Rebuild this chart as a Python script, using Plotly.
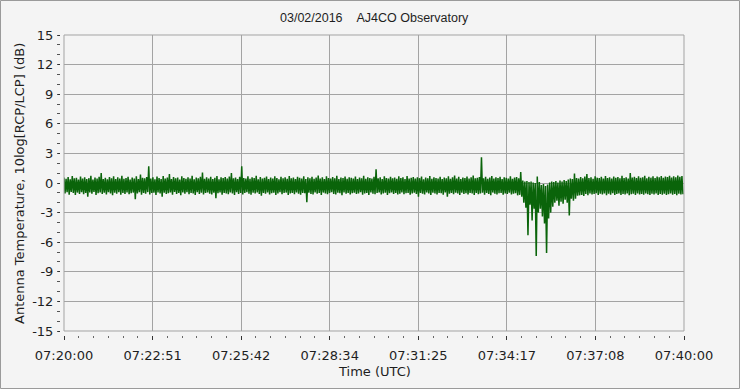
import plotly.graph_objects as go

# ---- data (dB), read per 4-second column: upper and lower envelope ----
SAMPLE_S = 4.0
hi = [
    0.55, 0.42, 0.61, 0.38, 0.70, 0.47, 0.52, 0.35, 0.66, 0.44,
    0.58, 0.40, 0.49, 0.72, 0.36, 0.55, 0.45, 0.63, 1.00, 0.41,
    0.53, 0.37, 0.60, 0.48, 0.68, 0.39, 0.57, 0.46, 0.74, 0.43,
    0.50, 0.62, 0.34, 0.56, 0.45, 0.69, 0.40, 0.85, 0.52, 0.47,
    0.60, 1.70, 0.44, 0.58, 0.37, 0.65, 0.49, 0.41, 0.71, 0.46,
    0.54, 0.90, 0.39, 0.61, 0.47, 0.56, 0.36, 0.67, 0.50, 0.43,
    0.59, 0.45, 0.73, 0.38, 0.55, 0.48, 0.62, 1.05, 0.42, 0.57,
    0.46, 0.64, 0.40, 0.53, 0.70, 0.37, 0.58, 0.49, 0.61, 0.44,
    0.66, 1.00, 0.47, 0.55, 0.39, 0.63, 1.70, 0.51, 0.45, 0.68,
    0.42, 0.57, 0.49, 0.74, 0.38, 0.60, 0.46, 0.53, 0.65, 0.41,
    0.56, 0.44, 0.69, 0.50, 0.37, 0.62, 0.48, 0.58, 0.43, 0.71,
    0.47, 0.55, 0.40, 0.64, 0.52, 0.45, 0.67, 0.39, 0.59, 0.48,
    0.63, 0.42, 0.54, 0.76, 0.46, 0.57, 0.41, 0.68, 0.50, 0.44,
    0.60, 0.47, 0.72, 0.39, 0.56, 0.49, 0.65, 0.43, 0.58, 0.52,
    0.45, 0.66, 0.40, 0.55, 0.48, 0.73, 0.42, 0.59, 0.51, 0.46,
    0.62, 1.40, 0.47, 0.57, 0.41, 0.69, 0.50, 0.44, 0.63, 0.48,
    0.55, 0.43, 0.67, 0.49, 0.58, 0.40, 0.71, 0.46, 0.53, 0.60,
    0.44, 0.57, 0.49, 0.65, 0.38, 0.54, 0.47, 0.70, 0.42, 0.59,
    0.51, 0.45, 0.64, 0.40, 0.56, 0.48, 0.68, 0.43, 0.57, 0.75,
    0.46, 0.62, 0.41, 0.55, 0.50, 0.66, 0.44, 0.58, 0.75, 0.48,
    0.53, 0.60, 2.60, 0.47, 0.63, 0.42, 0.56, 0.70, 0.45, 0.58,
    0.49, 0.64, 0.40, 0.57, 0.52, 0.46, 0.68, 0.43, 0.55, 0.61,
    0.47, 1.10, 0.25, 0.15, 0.20, 0.10, 0.15, 0.05, 0.00, 0.65,
    0.10, -0.20, -0.10, -0.30, -0.15, 0.05, 0.15, 0.10, 0.20, 0.05,
    0.25, 0.15, 0.30, 0.20, 0.35, 0.45, 0.40, 0.95, 0.50, 0.44,
    0.60, 0.47, 0.65, 0.90, 0.50, 0.58, 0.43, 0.67, 0.54, 0.49,
    0.62, 0.46, 0.70, 0.51, 0.57, 0.44, 0.66, 0.53, 0.60, 0.48,
    0.72, 0.50, 0.58, 0.45, 1.00, 0.55, 0.63, 0.49, 0.68, 0.52,
    0.59, 0.74, 0.47, 0.62, 0.54, 0.69, 0.50, 0.65, 0.57, 0.71,
    0.53, 0.66, 0.60, 0.73, 0.55, 0.68, 0.58, 0.76, 0.62, 0.70,
]
lo = [
    -1.05, -0.94, -1.18, -0.90, -1.02, -1.22, -0.97, -1.10, -0.92, -1.14,
    -1.00, -1.40, -0.96, -1.09, -0.91, -1.20, -1.03, -0.95, -1.12, -0.99,
    -1.16, -0.92, -1.05, -1.24, -0.98, -1.08, -0.93, -1.18, -1.01, -1.11,
    -0.96, -1.13, -1.04, -0.97, -1.65, -1.06, -0.94, -1.19, -1.00, -1.09,
    -0.92, -1.15, -1.02, -0.98, -1.21, -0.95, -1.07, -1.38, -0.99, -1.12,
    -1.03, -0.96, -1.18, -0.91, -1.10, -1.01, -1.23, -0.97, -1.08, -0.94,
    -1.14, -1.00, -1.06, -1.20, -0.93, -1.11, -0.98, -1.16, -1.02, -0.95,
    -1.09, -1.17, -0.99, -1.55, -1.04, -0.96, -1.19, -1.01, -1.07, -1.13,
    -0.97, -1.05, -1.21, -0.94, -1.10, -1.00, -1.15, -1.02, -0.92, -1.08,
    -1.18, -0.99, -1.06, -0.95, -1.12, -1.30, -1.01, -1.09, -0.96, -1.16,
    -1.03, -0.98, -1.20, -1.07, -0.93, -1.14, -1.02, -0.97, -1.22, -1.05,
    -1.00, -1.13, -0.96, -1.08, -1.19, -1.01, -1.04, -1.95, -0.98, -1.11,
    -1.16, -0.95, -1.09, -1.02, -1.21, -0.97, -1.06, -1.14, -1.00, -0.92,
    -1.10, -1.17, -0.99, -1.04, -1.24, -0.96, -1.08, -1.01, -1.15, -1.03,
    -0.98, -1.12, -1.05, -0.94, -1.18, -1.07, -1.00, -1.20, -0.97, -1.09,
    -1.14, -1.02, -0.96, -1.17, -1.06, -0.99, -1.22, -1.04, -0.95, -1.11,
    -1.01, -1.16, -1.08, -0.97, -1.13, -1.03, -1.00, -1.19, -1.05, -0.98,
    -1.12, -1.38, -1.02, -1.09, -1.17, -0.96, -1.06, -1.21, -0.99, -1.07,
    -1.15, -1.00, -1.04, -1.18, -0.97, -1.38, -1.08, -1.02, -1.14, -0.99,
    -1.06, -1.20, -0.98, -1.11, -1.03, -1.16, -1.01, -1.07, -1.22, -1.00,
    -1.13, -1.05, -0.99, -1.18, -1.02, -1.10, -1.24, -0.97, -1.08, -1.15,
    -1.04, -1.00, -1.19, -1.07, -1.12, -0.98, -1.17, -1.09, -1.03, -1.25,
    -1.20, -1.40, -2.00, -2.50, -5.30, -2.20, -3.80, -2.60, -7.40, -3.00,
    -2.60, -3.40, -4.10, -7.10, -3.60, -3.00, -2.40, -2.00, -1.80, -2.30,
    -1.90, -2.10, -1.70, -2.00, -3.30, -1.60, -1.80, -1.60, -1.30, -1.25,
    -1.20, -1.32, -1.12, -1.24, -1.06, -1.17, -1.10, -1.03, -1.21, -1.08,
    -1.15, -1.05, -1.23, -1.09, -1.18, -1.04, -1.20, -1.12, -1.07, -1.22,
    -1.10, -1.17, -1.05, -1.24, -1.13, -1.08, -1.21, -1.06, -1.16, -1.11,
    -1.19, -1.07, -1.14, -1.22, -1.09, -1.17, -1.05, -1.20, -1.12, -1.18,
    -1.08, -1.21, -1.13, -1.06, -1.19, -1.11, -1.23, -1.09, -1.16, -1.14,
]
x_tick_labels = ["07:20:00", "07:22:51", "07:25:42", "07:28:34",
                 "07:31:25", "07:34:17", "07:37:08", "07:40:00"]
y_tick_values = [-15, -12, -9, -6, -3, 0, 3, 6, 9, 12, 15]
y_tick_labels = ["-15", "-12", "-9", "-6", "-3", "0", "3", "6", "9", "12", "15"]
SPAN_S = 1200.0

# zig-zag between upper and lower envelope of each column
t, v = [], []
for i, (h, l) in enumerate(zip(hi, lo)):
    t += [i * SAMPLE_S, i * SAMPLE_S + SAMPLE_S / 2]
    v += [h, l]

W, H = 740, 389
L, R, T, B = 60, 56, 35, 54
PW, PH = W - L - R, H - T - B
GAP = 4
BG = "#f4f4f4"
GRID = "#a3a3a3"
TXT = "#1e1e1e"
TICKFONT = dict(family="DejaVu Sans", size=13, color=TXT)

fig = go.Figure(go.Scatter(x=t, y=v, mode="lines",
                           line=dict(color="#0a640a", width=1.5),
                           hoverinfo="skip"))

n = len(x_tick_labels)
fig.update_layout(
    width=W, height=H, margin=dict(l=L, r=R, t=T, b=B, pad=0),
    paper_bgcolor=BG, plot_bgcolor=BG, showlegend=False,
    xaxis=dict(domain=[GAP / PW, 1], range=[0, SPAN_S], anchor="free", position=0,
               showline=False, zeroline=False, showgrid=True, gridcolor=GRID, gridwidth=1,
               tickmode="array", tickvals=[k * SPAN_S / (n - 1) for k in range(n)],
               ticktext=x_tick_labels, ticks="outside", ticklen=4, tickcolor="#333",
               tickwidth=1, ticklabelstandoff=4, tickfont=TICKFONT,
               minor=dict(ticks="outside", ticklen=2, tickcolor="#666",
                          tick0=0, dtick=SPAN_S / ((n - 1) * 6), showgrid=False)),
    yaxis=dict(domain=[GAP / PH, 1], range=[-15, 15], anchor="free", position=0,
               showline=False, zeroline=False, showgrid=True, gridcolor=GRID, gridwidth=1,
               tickmode="array", tickvals=y_tick_values, ticktext=y_tick_labels,
               ticks="outside", ticklen=2, tickcolor="#333", tickfont=TICKFONT,
               ticklabelstandoff=2,
               minor=dict(ticks="outside", ticklen=3, tickcolor="#555",
                          tick0=0, dtick=1, showgrid=False)),
    shapes=[
        dict(type="rect", xref="paper", yref="paper", x0=GAP / PW, x1=1, y0=GAP / PH, y1=1,
             line=dict(color=GRID, width=1), layer="above"),
        dict(type="rect", xref="paper", yref="paper",
             x0=(0.5 - L) / PW, x1=(W - 0.5 - L) / PW,
             y0=(T + PH - (H - 0.5)) / PH, y1=(T + PH - 0.5) / PH,
             line=dict(color="#9a9a9a", width=1), layer="above"),
    ],
    annotations=[
        dict(text="03/02/2016\u00a0\u00a0\u00a0\u00a0AJ4CO Observatory",
             xref="paper", yref="paper", x=(374 - L) / PW, y=(T + PH - 18) / PH,
             xanchor="center", yanchor="middle", showarrow=False,
             font=dict(family="Liberation Sans", size=12.5, color=TXT)),
        dict(text="Antenna Temperature, 10log[RCP/LCP] (dB)", textangle=-90,
             xref="paper", yref="paper", x=(19.5 - L) / PW, y=(T + PH - 183.5) / PH,
             xanchor="center", yanchor="middle", showarrow=False,
             font=dict(family="DejaVu Sans", size=13, color=TXT)),
        dict(text="Time (UTC)",
             xref="paper", yref="paper", x=(374.7 - L) / PW, y=(T + PH - 371.5) / PH,
             xanchor="center", yanchor="middle", showarrow=False,
             font=dict(family="DejaVu Sans", size=13, color=TXT)),
    ],
)

fig.write_html("out.html")
